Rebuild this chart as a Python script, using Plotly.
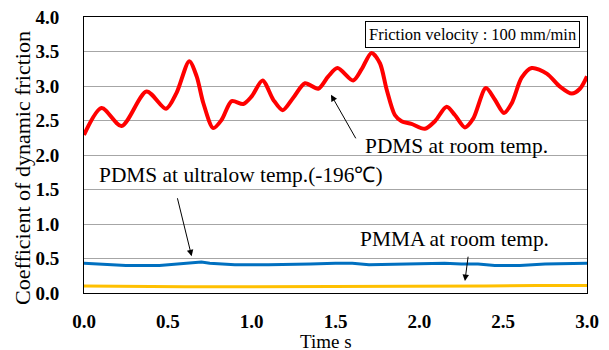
import plotly.graph_objects as go

# Red: PDMS at room temp.
t_red = [0.0, 0.105, 0.224, 0.373, 0.489, 0.552, 0.628, 0.672, 0.712, 0.771, 0.821, 0.881,
         0.950, 1.0, 1.065, 1.129, 1.185, 1.248, 1.318, 1.397, 1.457, 1.512, 1.605, 1.655,
         1.715, 1.765, 1.805, 1.854, 1.894, 1.953, 2.033, 2.093, 2.163, 2.212, 2.272, 2.322,
         2.397, 2.451, 2.505, 2.551, 2.610, 2.670, 2.760, 2.839, 2.909, 2.958, 3.0]
v_red = [2.29, 2.68, 2.42, 2.92, 2.67, 2.90, 3.36, 3.14, 2.75, 2.39, 2.51, 2.78,
         2.74, 2.85, 3.08, 2.80, 2.65, 2.83, 3.04, 2.96, 3.14, 3.26, 3.08, 3.24,
         3.48, 3.33, 2.95, 2.58, 2.49, 2.45, 2.38, 2.49, 2.70, 2.58, 2.40, 2.53,
         2.97, 2.80, 2.61, 2.75, 3.12, 3.26, 3.18, 2.99, 2.89, 2.96, 3.14]

# Blue: PDMS at ultralow temp.
t_blue = [0.0, 0.1, 0.25, 0.45, 0.55, 0.65, 0.7, 0.75, 0.9, 1.1, 1.25, 1.35, 1.5, 1.6,
          1.7, 1.85, 2.0, 2.15, 2.25, 2.35, 2.45, 2.6, 2.75, 2.9, 3.0]
v_blue = [0.43, 0.42, 0.40, 0.40, 0.42, 0.43, 0.45, 0.43, 0.41, 0.41, 0.41, 0.42, 0.43, 0.43,
          0.41, 0.42, 0.43, 0.43, 0.42, 0.42, 0.40, 0.40, 0.42, 0.43, 0.43]

# Yellow: PMMA at room temp.
t_yel = [0.0, 0.3, 0.6, 0.9, 1.2, 1.5, 1.8, 2.1, 2.4, 2.7, 3.0]
v_yel = [0.10, 0.09, 0.09, 0.09, 0.09, 0.09, 0.10, 0.10, 0.10, 0.11, 0.11]

x_ticks = [0.0, 0.5, 1.0, 1.5, 2.0, 2.5, 3.0]
y_ticks = [0.0, 0.5, 1.0, 1.5, 2.0, 2.5, 3.0, 3.5, 4.0]

SERIF = "Liberation Serif"

fig = go.Figure()
fig.add_trace(go.Scatter(x=t_yel, y=v_yel, mode="lines", line=dict(color="#FFC000", width=3), showlegend=False))
fig.add_trace(go.Scatter(x=t_blue, y=v_blue, mode="lines", line=dict(color="#0070C0", width=3), showlegend=False))
fig.add_trace(go.Scatter(x=t_red, y=v_red, mode="lines", line=dict(color="#FF0000", width=4, shape="spline", smoothing=0.8), showlegend=False))

tick_font = dict(family=SERIF, size=19, color="black", weight="bold")
fig.update_xaxes(range=[0, 3], tickvals=x_ticks, ticktext=[f"{v:.1f}" for v in x_ticks],
                 showgrid=False, zeroline=False, showline=True, linecolor="black", linewidth=1,
                 mirror=True, ticks="", tickfont=tick_font, automargin=False, ticklabelstandoff=11)
fig.update_yaxes(range=[0, 4], tickvals=y_ticks, ticktext=[f"{v:.1f}" for v in y_ticks],
                 showgrid=True, gridcolor="#A6A6A6", gridwidth=1, zeroline=False,
                 showline=True, linecolor="black", linewidth=1, mirror=True, ticks="",
                 tickfont=tick_font, automargin=False, ticklabelstandoff=20)

lab_font = dict(family=SERIF, size=21.4, color="black")
ann = [
    dict(x=2.224, y=2.137, text="PDMS at room temp.", showarrow=False, font=lab_font),
    dict(x=0.939, y=1.71, text="PDMS at ultralow temp.(-196℃)", showarrow=False, font=lab_font),
    dict(x=2.212, y=0.776, text="PMMA at room temp.", showarrow=False, font=lab_font),
    dict(x=1.473, y=2.874, ax=1.626, ay=2.22, axref="x", ayref="y", text="", showarrow=True,
         arrowhead=2, arrowsize=1.3, arrowwidth=1, arrowcolor="black"),
    dict(x=0.642, y=0.533, ax=0.555, ay=1.395, axref="x", ayref="y", text="", showarrow=True,
         arrowhead=2, arrowsize=1.3, arrowwidth=1, arrowcolor="black"),
    dict(x=2.272, y=0.174, ax=2.292, ay=0.548, axref="x", ayref="y", text="", showarrow=True,
         arrowhead=2, arrowsize=1.3, arrowwidth=1, arrowcolor="black"),
    dict(x=2.318, y=3.753, text="Friction velocity : 100 mm/min", showarrow=False,
         font=dict(family=SERIF, size=16.5, color="black"), bordercolor="black", borderwidth=1,
         borderpad=3, bgcolor="white"),
    dict(xref="paper", yref="paper", x=-0.1213, y=0.453, xanchor="center", yanchor="middle",
         text="Coefficient of dynamic friction",
         textangle=-90, showarrow=False, font=dict(family=SERIF, size=22, color="black")),
    dict(xref="paper", yref="paper", x=0.481, y=-0.1754, xanchor="center", yanchor="middle",
         text="Time s",
         showarrow=False, font=dict(family=SERIF, size=19, color="black")),
]
fig.update_layout(annotations=ann, width=609, height=350,
                  margin=dict(l=84, r=22, t=17, b=57),
                  plot_bgcolor="white", paper_bgcolor="white")

fig.write_html("out.html", config={"displayModeBar": False},
               post_script="document.body.style.margin='0px';")
